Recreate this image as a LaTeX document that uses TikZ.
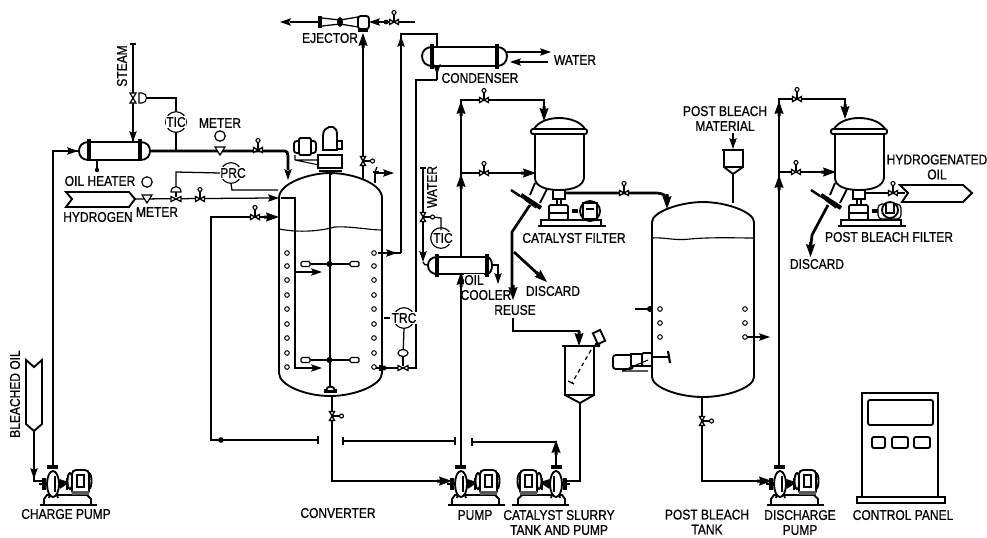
\documentclass[tikz,border=0pt]{standalone}
\usepackage{fontspec}
\setmainfont[FakeStretch=0.85,FakeBold=0.8]{Liberation Sans}
\usetikzlibrary{arrows.meta,calc}
\tikzset{
  pipe/.style={line width=2.05pt,line join=miter},
  pipem/.style={line width=1.5pt},
  thin line/.style={line width=.95pt},
  vess/.style={line width=1.4pt},
  lab/.style={inner sep=0pt,font=\fontsize{10.6}{11.2}\selectfont,align=center},
  inst/.style={circle,draw,line width=.85pt,minimum size=15.5pt,inner sep=0pt},
  instlab/.style={lab,fill=white,inner sep=.4pt},
  ahead/.pic={\fill (0,0)--(-11,3.8)--(-9,0)--(-11,-3.8)--cycle;},
  aheadb/.pic={\fill (0,0)--(-13,4.6)--(-12,1.5)--(-15,1.5)--(-15,-1.5)--(-12,-1.5)--(-13,-4.6)--cycle;},
  valveu/.pic={
    \draw[line width=.85pt] (0,0)--(0,-8);
    \draw[line width=1pt,fill=white] (-4.5,-2.5)--(4.5,2.5)--(4.5,-2.5)--(-4.5,2.5)--cycle;
    \draw[line width=.85pt,fill=white] (0,-9.5) circle[radius=2];
  },
  pumpu/.pic={
    \draw[vess,fill=white] (-9,15)--(-6,11)--(34,11)--(38,15)--(38,21)--(-9,21)--cycle;
    \draw[line width=.8pt] (-13,21)--(44,21);
    \draw[vess,fill=white] (-4,14)--(-2,5)--(2,5)--(5,14);
    \draw[line width=2.6pt] (-9,-6)--(-9,6);
    \draw[pipe] (-14,0)--(-6,0);
    \draw[vess,fill=white] (0,0) ellipse[x radius=6,y radius=13];
    \draw[line width=.8pt] (2,-8) -- (2,8);
    \draw[line width=2.4pt] (-6,-17)--(5,-17);
    \draw[line width=3pt] (6,-3)--(12,-1)--(6,3);
    \draw[line width=2.2pt] (14,-6)--(14,6);
    \draw[vess,fill=white] (36,-3) ellipse[x radius=2.5,y radius=8];
    \draw[vess,fill=white] (17,-3) ellipse[x radius=2.5,y radius=8];
    \draw[vess,fill=white,rounded corners=3] (19,-14) rectangle (36,11);
    \fill[black!65] (19,7) rectangle (36,11);
    \draw[vess,fill=white] (24,-9) rectangle (31,3);
  },
}
\newcommand{\Ahead}[3]{\pic[rotate=#3] at (#1,#2) {ahead};}
\newcommand{\AheadB}[3]{\pic[rotate=#3] at (#1,#2) {aheadb};}
\newcommand{\Vlv}[3]{\pic[rotate=#3] at (#1,#2) {valveu};}
\newcommand{\Coilc}[2]{\draw[line width=.75pt,fill=white] (#1,#2) circle[radius=2.3];}
\newcommand{\FilterVessel}{%
  \draw[vess] (534,129) .. controls (538,122) and (548,118) .. (559,118) .. controls (570,118) and (581,122) .. (585,129);
  \draw[vess,fill=white,rounded corners=1.5] (531,129) rectangle (587,134);
  \draw[vess] (535,134)--(535,178) .. controls (535,186) and (545,190) .. (559,190) .. controls (573,190) and (583,186) .. (584,178)--(584,134);
  \draw[vess] (535,183)--(530,195) (547,189)--(540,203);
  \draw[line width=3.2pt] (521,195)--(541,208);
  \draw[line width=.8pt] (525,200)--(536,208);
  \draw[line width=1.8pt] (511,190)--(520,196);
  \draw[vess,fill=white] (553,190) rectangle (565,199);
  \draw[vess] (557,199)--(557,205) (561,199)--(561,205);
  \draw[vess,fill=white,rounded corners=1] (549,205) rectangle (568,220);
  \draw[line width=.8pt] (549,213)--(568,213);
  \draw[vess] (541,226)--(541,220)--(601,220)--(601,226);
  \draw[line width=.8pt] (538,226)--(606,226);
}
\begin{document}
\begin{tikzpicture}[x=.75pt,y=-.75pt]
\useasboundingbox (0,0) rectangle (987,537);

% ---------- named connection points
\coordinate (chgP) at (53,467); \coordinate (chgT) at (53,151);
\coordinate (htrW) at (79,151); \coordinate (htrE) at (150,151);
\coordinate (convIn1) at (288,170); \coordinate (oilC) at (285,151);
\coordinate (stmT) at (133,44); \coordinate (stmB) at (133,142);
\coordinate (h2E) at (135,199); \coordinate (convH2) at (279,198);
\coordinate (retV) at (270,217); \coordinate (retA) at (211,217);
\coordinate (retB) at (211,440); \coordinate (retC) at (318,440);
\coordinate (retD) at (343,441); \coordinate (retE) at (455,441);
\coordinate (retF) at (472,442); \coordinate (retG) at (556,442);
\coordinate (catP) at (556,467);
\coordinate (convBot) at (332,396); \coordinate (convBot2) at (332,481);
\coordinate (pumpIn) at (440,481); \coordinate (pumpTop) at (461,467);
\coordinate (ejB) at (363,180); \coordinate (ejT) at (363,36);
\coordinate (colR) at (401,253); \coordinate (colT) at (401,34);
\coordinate (cndT) at (437,34); \coordinate (cndB) at (437,80);
\coordinate (cwB) at (416,80); \coordinate (cwC) at (416,368);

% ---------- charge pump and oil heater
\draw[vess] (26,360)--(34,367)--(42,360)--(42,424)--(34,431)--(26,424)--cycle;
\draw[pipem] (34,431)--(34,481)--(44,481);
\Ahead{34}{479}{270}
\pic at (53,484) {pumpu};
\draw[pipe] (chgP)--(chgT)--(htrW);
\Ahead{78}{151}{0}
\draw[vess,fill=white] (89,142) .. controls (82,142) and (79,146) .. (79,151) .. controls (79,156) and (82,160) .. (89,160) -- (140,160) .. controls (147,160) and (150,156) .. (150,151) .. controls (150,146) and (147,142) .. (140,142) -- cycle;
\draw[line width=2.6pt] (89,139)--(89,161) (140,139)--(140,161);
\draw[pipem] (97,160)--(97,169);
\fill (97,170) circle[radius=2.2];

% ---------- steam and TIC
\draw[thin line] (130,44)--(136,44);
\draw[line width=.95pt] (stmT)--(133,128);
\draw[pipem] (133,128)--(stmB);
\Ahead{133}{142}{270}
\draw[line width=.9pt,fill=white] (130,93)--(136,103)--(130,103)--(136,93)--cycle;
\draw[line width=.8pt,fill=white] (139,93)--(142,93) .. controls (148,93) and (148,103) .. (142,103)--(139,103)--cycle;
\node[inst] (tic1) at (176,122) {};
\node[instlab] (tic1t) at (176,122) {TIC};
\draw[thin line] (146,98)--(176,98)--(tic1.north);
\draw[thin line] (tic1.south)--(176,150);
\draw[pipe] (htrE)--(oilC) .. controls (287,151) and (288,153) .. (288,156)--(convIn1);
\Ahead{288}{180}{270}
\Vlv{258}{150}{0}
\node[lab] (mtr1) at (220,123) {METER};
\draw[line width=.9pt] (220,136) circle[radius=5.2];
\draw[line width=.9pt,fill=white] (215,147)--(225,147)--(220,155)--cycle;

% ---------- hydrogen line
\draw[vess] (66,192)--(129,192)--(135,199)--(129,207)--(66,207)--(72,199)--cycle;
\node[lab] (htrl) at (100,181) {OIL HEATER};
\node[lab] (hydl) at (98,217) {HYDROGEN};
\node[lab] (mtr2) at (157,212) {METER};
\draw[thin line] (h2E)--(272,198);
\Ahead{279}{198}{0}
\draw[line width=.9pt] (147,182) circle[radius=5.2];
\draw[line width=.9pt,fill=white] (142,195)--(152,195)--(147,203)--cycle;
\draw[line width=.9pt,fill=white] (171,196.5)--(181,201.5)--(181,196.5)--(171,201.5)--cycle;
\draw[line width=.9pt,fill=white] (171,192) .. controls (171,185) and (181,185) .. (181,192)--cycle;
\draw[thin line] (176,192)--(176,197);
\Vlv{200}{199}{0}
\node[inst] (prc) at (231,173) {};
\node[instlab] (prct) at (233,173) {PRC};
\draw[thin line] (176,186)--(176,172)--(prc.west);
\draw[thin line] (prc.south)--(232,190)--(278,190);

% ---------- converter
\draw[vess] (279,373)--(279,198) .. controls (279,183) and (310,173) .. (330,173) .. controls (352,173) and (382,183) .. (382,198)--(382,373) .. controls (382,385) and (355,396) .. (330,396) .. controls (305,396) and (279,385) .. (279,373);
\draw[line width=.85pt] (279,229) .. controls (300,233) and (320,231) .. (335,227) .. controls (350,226) and (370,230) .. (382,230);
\draw[line width=.95pt] (330,173)--(330,392);
\draw[thin line] (281,198)--(295,198)--(295,368)--(315,368);
\draw[thin line] (295,272)--(315,272);
\Ahead{322}{368}{0}
\Ahead{322}{272}{0}
\draw[vess] (305,264)--(354,264) (305,360)--(354,360);
\foreach \yy in {264,360}{
  \fill (329.5,\yy) circle[radius=3];
  \draw[line width=.9pt,fill=white,rounded corners=1] (301,\yy-2.5) rectangle (310,\yy+2.5);
  \draw[line width=.9pt,fill=white,rounded corners=1] (350,\yy-2.5) rectangle (359,\yy+2.5);
}
\foreach \yy in {253,266,280,295,309,324,338,353,367}{ \Coilc{287}{\yy} \Coilc{374}{\yy} }
% agitator
\draw[line width=2pt] (319,171)--(342,171);
\draw[vess,fill=white] (318,155) rectangle (342,168);
\draw[vess,fill=white] (323,150) -- (323,136) .. controls (323,130) and (326,128) .. (329,127) -- (333,127) .. controls (336,128) and (337,130) .. (337,136) -- (337,150) -- cycle;
\draw[vess,fill=white] (337,141) rectangle (342,149);
\draw[vess,fill=white,rounded corners=2] (294,141) rectangle (316,153);
\draw[vess,fill=white,rounded corners=1] (299,138) rectangle (311,155);
\draw[line width=.8pt] (295,160)--(319,160) (295,155)--(295,160) (295,160)--(319,165);
\fill (329,172)--(334,172)--(331.5,175)--cycle;
% return line
\draw[pipe] (retV)--(retA)--(retB)--(retC);
\draw[pipe] (retD)--(retE);
\draw[pipe] (retF)--(retG)--(catP);
\AheadB{279}{217}{0}
\Vlv{255}{217}{0}
\fill (221,440) circle[radius=2.8];
\draw[thin line] (318,436)--(318,444) (343,437)--(343,445) (455,437)--(455,445) (472,438)--(472,446);
\AheadB{556}{440}{90}
\draw[line width=2.4pt] (324,391)--(337,391);
\draw[vess,fill=white] (326,391) .. controls (326,385) and (335,385) .. (335,391)--cycle;
\draw[pipe] (convBot)--(convBot2)--(pumpIn);
\Vlv{332}{416}{-90}
\node[lab] (convl) at (338,513) {CONVERTER};

% ---------- pump, catalyst slurry
\pic at (461,484) {pumpu};
\AheadB{452}{481}{0}
\pic[xscale=-1] at (556,484) {pumpu};
\draw[pipe] (pumpTop)--(461,275);
\AheadB{461}{272}{90}
\draw[pipe] (461,257)--(461,100)--(544,100)--(544,110);
\AheadB{544}{121}{270}
\Vlv{484}{100}{0}
\AheadB{461}{101}{90}
\draw[pipe] (461,173)--(526,173);
\AheadB{536}{173}{0}
\AheadB{461}{174}{90}
\Vlv{484}{173}{0}
\node[lab] (pumpl) at (475,515) {PUMP};
\node[lab] (catl) at (559,522.5) {CATALYST SLURRY\\TANK AND PUMP};

% ---------- ejector
\draw[line width=.95pt] (290,22)--(322,22);
\Ahead{280}{22}{180}
\draw[line width=.95pt] (322,18)--(340,20) (322,26)--(340,24) (340,20)--(358,17) (340,24)--(358,27);
\draw[line width=2.8pt] (320,16)--(320,28);
\fill (340,22) ellipse[x radius=3,y radius=5];
\draw[vess,fill=white,rounded corners=2] (358,16) rectangle (369,29);
\draw[line width=.95pt] (378,22)--(415,22);
\Ahead{369}{22}{180}
\fill (386,22) circle[radius=2.4];
\Vlv{394}{22}{0}
\draw[line width=2.4pt] (358,30)--(368,30);
\draw[pipem] (ejB)--(ejT);
\AheadB{363}{33}{90}
\Vlv{363}{161}{-90}
\node[lab] (ejl) at (330,38) {EJECTOR};
\draw[vess] (375,183)--(375,173)--(385,173);
\Ahead{394}{173}{0}
\draw[thin line] (375,172)--(377,167);
\draw[line width=1.4pt] (373,172)--(379,172);

% ---------- condenser
\draw[thin line] (colR)--(colT)--(cndT)--(437,47);
\draw[thin line] (378,253)--(colR);
\Ahead{397}{253}{0}
\Ahead{401}{36}{90}
\Ahead{437}{45}{90}
\draw[vess,fill=white] (432,47) .. controls (426,47) and (422,51) .. (422,56) .. controls (422,62) and (426,66) .. (432,66)--(497,66) .. controls (503,66) and (507,62) .. (507,56) .. controls (507,51) and (503,47) .. (497,47)--cycle;
\draw[line width=2.8pt] (432,44)--(432,69) (497,44)--(497,69);
\draw[thin line] (cndB)--(cwB)--(cwC)--(388,368);
\draw[thin line] (437,66)--(cndB);
\Ahead{437}{75}{270}
\draw[thin line] (507,52)--(545,52);
\Ahead{551}{52}{0}
\draw[thin line] (515,62)--(548,62);
\Ahead{510}{62}{180}
\node[lab] (cndl) at (480,78) {CONDENSER};
\node[lab] (wtr1) at (575,60) {WATER};

% ---------- TRC loop
\node[inst] (trc) at (404,318) {};
\node[instlab] (trct) at (404,318) {TRC};
\draw[thin line] (384,318)--(390,318);
\draw[thin line] (trc.south)--(403,356);
\draw[line width=.9pt,fill=white] (403,353) ellipse[x radius=5,y radius=3.5];
\draw[line width=.9pt,fill=white] (398,365.5)--(408,370.5)--(408,365.5)--(398,370.5)--cycle;
\draw[thin line] (376,368)--(398,368);
\draw[line width=2.4pt] (381,365)--(381,371);
\fill (384,368) circle[radius=2.5];
\draw[thin line] (403,356)--(403,366);

% ---------- oil cooler
\draw[thin line] (423,168)--(423,253);
\draw[thin line] (420,168)--(426,168);
\Ahead{423}{262}{270}
\draw[thin line] (423,262) .. controls (424,265) and (425,265) .. (428,265);
\node[lab,rotate=90] (wtr2) at (432,187) {WATER};
\pic[rotate=-90] at (423,217) {valveu};
\draw[thin line] (434,217)--(441,218)--(441,230);
\node[inst] (tic2) at (441,238) {};
\node[instlab] (tic2t) at (443,238) {TIC};
\draw[vess,fill=white] (437,257) .. controls (431,257) and (428,261) .. (428,265.5) .. controls (428,270) and (431,274) .. (437,274)--(487,274) .. controls (490,274) and (492,270) .. (492,265.5) .. controls (492,261) and (490,257) .. (487,257)--cycle;
\draw[line width=2.6pt] (437,254)--(437,277) (487,254)--(487,277);
\draw[thin line] (492,265)--(498,265)--(498,275);
\Ahead{498}{284}{270}
\node[lab,fill=white,inner sep=.5pt] (oill) at (474,280) {OIL};
\node[lab] (cooll) at (486,295) {COOLER};

% ---------- catalyst filter
\FilterVessel
\draw[line width=2.4pt] (572,211)--(578,211);
\draw[vess,fill=white] (590,211) circle[radius=10];
\draw[line width=2pt] (583,203) rectangle (597,219);
\draw[line width=.9pt] (586,209)--(594,209);
\draw[pipe] (565,193)--(655,193) .. controls (664,193) and (666,196) .. (666,198);
\AheadB{667}{209}{270}
\Vlv{624}{193}{0}
\draw[pipe] (530,205)--(512,232)--(512,288);
\AheadB{513}{300}{270}
\draw[pipe] (514,252)--(539,275);
\AheadB{547}{282}{-42}
\node[lab] (catfl) at (574,238) {CATALYST FILTER};
\node[lab] (disc1) at (553,291) {DISCARD};
\node[lab] (reusl) at (515,310) {REUSE};

% ---------- slurry tank
\draw[pipe] (513,318)--(513,331)--(579,331)--(579,338);
\AheadB{579}{346}{270}
\draw[line width=2.2pt] (562,346)--(600,346);
\draw[vess] (565,346)--(565,395)--(580,403)--(594,395)--(594,346);
\draw[vess] (565,395)--(594,395);
\draw[line width=.9pt,dash pattern=on 3pt off 2.5pt] (591,350)--(572,383);
\draw[line width=.9pt] (568,381)--(574,384);
\draw[vess,fill=white,rotate around={-65:(599,337)}] (593,333) rectangle (605,341);
\draw[line width=2pt] (595,344)--(600,346);
\draw[pipem] (580,403)--(580,481)--(566,481);

% ---------- post bleach tank
\draw[vess] (652,377)--(652,222) .. controls (652,212) and (680,202) .. (703,202) .. controls (726,202) and (754,212) .. (754,222)--(754,377) .. controls (754,387) and (728,397) .. (703,397) .. controls (678,397) and (652,387) .. (652,377);
\draw[line width=.85pt] (652,238) .. controls (665,237) and (675,241) .. (690,239) .. controls (710,237) and (740,238) .. (754,238);
\foreach \yy in {309,323,337}{ \Coilc{660}{\yy} \Coilc{745}{\yy} }
\draw[thin line] (635,309)--(652,309);
\fill (650,309) circle[radius=3];
\draw[thin line] (747,337)--(763,337);
\Ahead{770}{337}{0}
\draw[vess] (652,357)--(668,357);
\draw[line width=1.6pt] (668,351)--(670,363);
\draw[vess,fill=white,rounded corners=2] (613,355) rectangle (633,369);
\draw[vess,fill=white] (631,354) rectangle (642,366);
\draw[vess,fill=white,rounded corners=1] (642,353) rectangle (652,366);
\draw[line width=.8pt] (622,371)--(648,360) (622,371)--(648,371);
\draw[pipe] (702,397)--(702,481)--(762,481);
\Vlv{702}{421}{-90}
\AheadB{772}{481}{0}
\node[lab] (pbtl) at (707,522) {POST BLEACH\\TANK};
% feed hopper
\draw[vess] (722,150)--(744,150);
\draw[vess] (724,150)--(724,167)--(733,174)--(743,167)--(743,150);
\draw[vess] (724,167)--(743,167);
\draw[thin line] (733,174)--(733,203);
\draw[thin line] (733,133)--(733,142);
\Ahead{733}{149}{270}
\node[lab] (pbml) at (725,118.5) {POST BLEACH\\MATERIAL};

% ---------- discharge pump and post bleach filter
\pic at (780,484) {pumpu};
\draw[pipe] (779,467)--(779,99)--(845,99)--(845,108);
\AheadB{845}{119}{270}
\AheadB{779}{101}{90}
\Vlv{797}{99}{0}
\draw[pipe] (779,172)--(826,172);
\AheadB{836}{172}{0}
\AheadB{779}{175}{90}
\Vlv{796}{172}{0}
\node[lab] (dchl) at (800,522.5) {DISCHARGE\\PUMP};
\begin{scope}[shift={(300,0)}]
  \FilterVessel
  \draw[line width=2.4pt] (572,211)--(578,211);
  \draw[line width=.9pt,fill=white,rounded corners=3] (578,204) rectangle (601,219);
  \draw[vess,fill=white] (590,210) circle[radius=8];
  \draw[line width=1.2pt] (586,204)--(586,213)--(594,213)--(594,204);
\end{scope}
\draw[pipe] (865,193)--(905,193);
\Vlv{893}{193}{0}
\draw[vess,fill=white] (900,185)--(963,185)--(972,193)--(963,202)--(902,202)--(908,193)--cycle;
\draw[pipe] (828,205)--(812,235)--(811,244);
\AheadB{810.5}{257}{270}
\node[lab] (hol) at (937,167) {HYDROGENATED\\OIL};
\node[lab] (pbfl) at (889,237) {POST BLEACH FILTER};
\node[lab] (disc2) at (817,264) {DISCARD};

% ---------- control panel
\draw[vess] (862,497)--(862,393)--(938,393)--(938,497);
\draw[vess] (857,497) rectangle (945,503);
\draw[vess,rounded corners=1.5] (868,400) rectangle (933,425);
\draw[vess,rounded corners=1.5] (872,437) rectangle (885,448);
\draw[vess,rounded corners=1.5] (892,437) rectangle (908,448);
\draw[vess,rounded corners=1.5] (914,437) rectangle (930,448);
\node[lab] (cpl) at (903,515) {CONTROL PANEL};

% ---------- remaining labels
\node[lab,rotate=90] (stml) at (122,66) {STEAM};
\node[lab,rotate=90] (bol) at (15,394) {BLEACHED OIL};
\node[lab] (chgl) at (66,514) {CHARGE PUMP};
\end{tikzpicture}
\end{document}
